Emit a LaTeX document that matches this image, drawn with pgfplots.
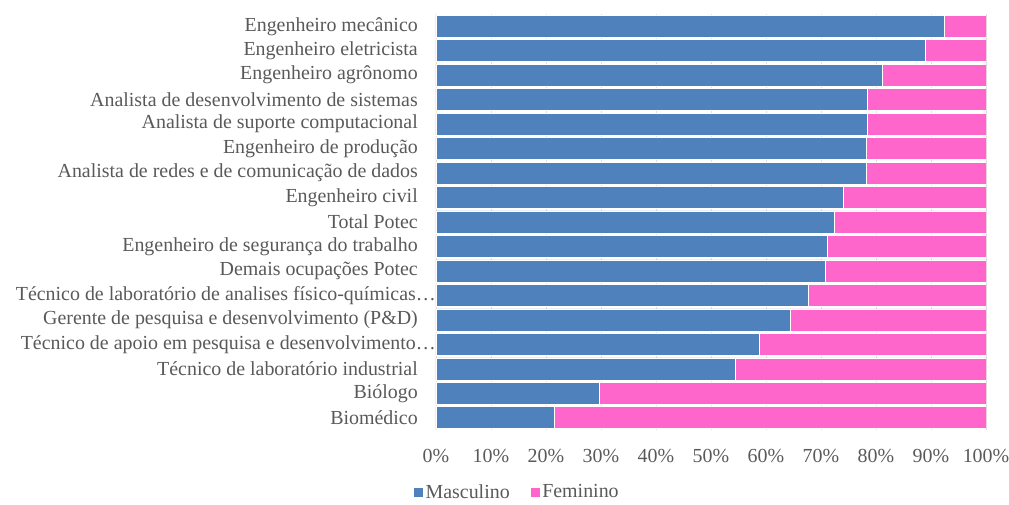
\documentclass[border=0pt]{standalone}
\usepackage{pgfplots}
\pgfplotsset{compat=1.18}
\usepackage{pgfplotstable}
\usepackage{fontspec}
\setmainfont{Liberation Serif}
\definecolor{masc}{RGB}{79,129,189}
\definecolor{fem}{RGB}{255,102,204}
\definecolor{txt}{RGB}{89,89,89}
\pgfplotstableread{
y masc fem
0 21.6 78.4
1 29.7 70.3
2 54.4 45.6
3 58.7 41.3
4 64.4 35.6
5 67.6 32.4
6 70.7 29.3
7 71.2 28.8
8 72.4 27.6
9 74.1 25.9
10 78.2 21.8
11 78.3 21.7
12 78.5 21.5
13 78.5 21.5
14 81.1 18.9
15 89.0 11.0
16 92.4 7.6
}\datatable
\begin{document}
\begin{tikzpicture}[x=1bp,y=1bp]
\begin{axis}[name=ax, at={(0,0)}, anchor=south west,
  scale only axis, width=550bp, height=416bp,
  xbar stacked, bar width=22bp,
  xmin=0, xmax=100, ymin=-0.5, ymax=16.5,
  xtick={0,10,...,100},
  xticklabel={\pgfmathprintnumber{\tick}\%},
  ytick={0,...,16},
  yticklabels={Biomédico,Biólogo,Técnico de laboratório industrial,Técnico de apoio em pesquisa e desenvolvimento…\hspace*{-18bp},Gerente de pesquisa e desenvolvimento (P\&D),Técnico de laboratório de analises físico-químicas…\hspace*{-18bp},Demais ocupações Potec,Engenheiro de segurança do trabalho,Total Potec,Engenheiro civil,Analista de redes e de comunicação de dados,Engenheiro de produção,Analista de suporte computacional,Analista de desenvolvimento de sistemas,Engenheiro agrônomo,Engenheiro eletricista,Engenheiro mecânico},
  xmajorgrids, grid style={gray!25, line width=0.8bp},
  axis line style={draw=none},
  tick style={draw=none},
  ticklabel style={font=\fontsize{20}{22}\selectfont, text=txt},
  yticklabel style={inner sep=0pt, xshift=-18bp},
  xticklabel style={inner sep=0pt, yshift=-19bp},
  /pgf/number format/assume math mode=true,
  legend style={at={(rel axis cs:0.147,-0.149)}, anchor=center, draw=none, fill=none,
    font=\fontsize{20}{22}\selectfont, text=txt, legend columns=2,
    /tikz/every even column/.append style={column sep=18bp}},
  legend image code/.code={\fill[#1] (0bp,-5bp) rectangle (10bp,5bp);},
]
\addplot[fill=masc, draw=white, line width=0.6bp] table[x=masc, y=y] {\datatable};
\addplot[fill=fem, draw=white, line width=0.6bp] table[x=fem, y=y] {\datatable};
\legend{Masculino, Feminino}
\end{axis}
\pgfresetboundingbox
\path (-436,-75) rectangle (573,430);
\end{tikzpicture}
\end{document}
